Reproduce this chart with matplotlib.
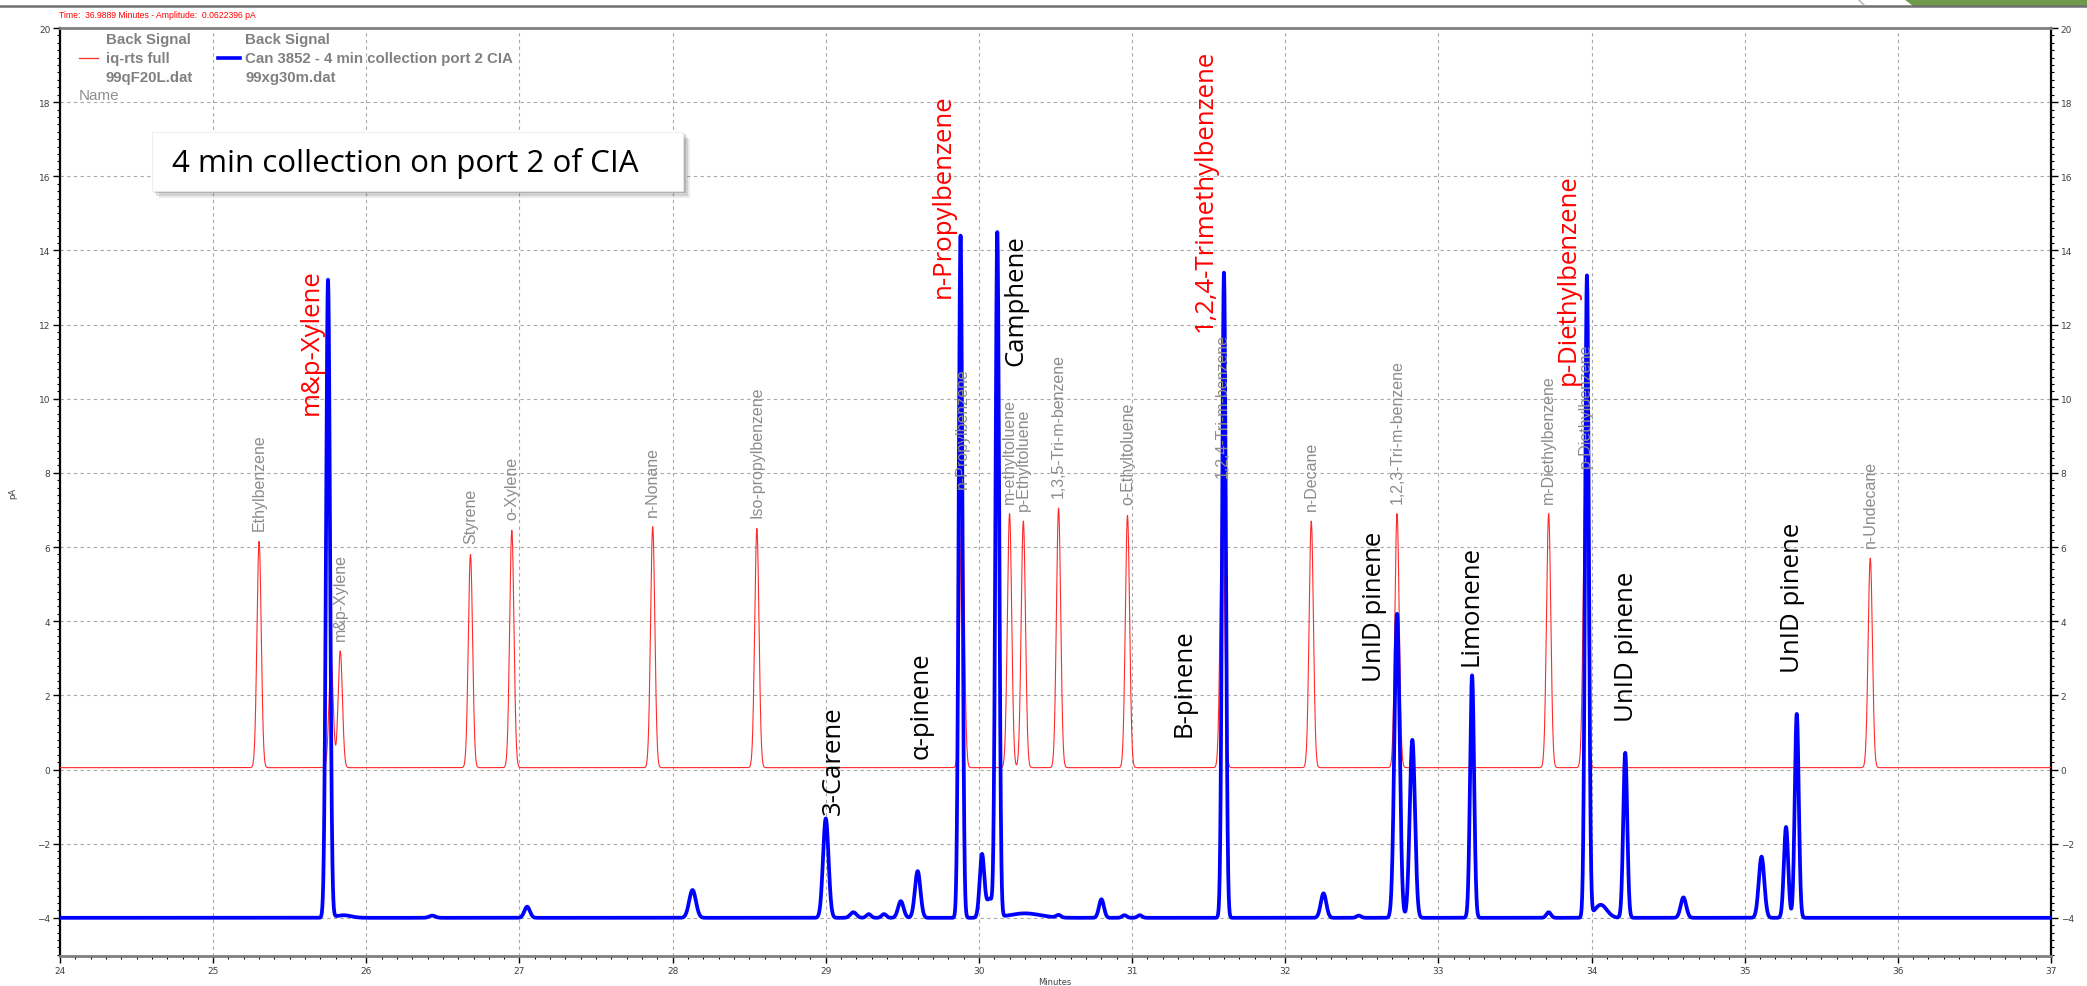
import numpy as np
import matplotlib.pyplot as plt
from matplotlib.patches import Rectangle, Polygon
from matplotlib.ticker import MultipleLocator

# red trace: reference standard (iq-rts full, 99qF20L.dat)
red_times = [25.30, 25.77, 25.83, 26.68, 26.95, 27.87, 28.55, 29.89, 30.20, 30.29,
             30.52, 30.97, 31.59, 32.17, 32.73, 33.72, 33.96, 35.82]
red_heights = [6.1, 2.9, 3.15, 5.75, 6.4, 6.5, 6.45, 7.25, 6.85, 6.65,
               7.0, 6.8, 7.55, 6.65, 6.85, 6.85, 7.8, 5.65]
red_widths = [0.014] * 18
red_names = ['Ethylbenzene', '', 'm&p-Xylene', 'Styrene', 'o-Xylene', 'n-Nonane',
             'Iso-propylbenzene', 'n-Propylbenzene', 'm-ethyltoluene', 'p-Ethyltoluene',
             '1,3,5-Tri-m-benzene', 'o-Ethyltoluene', '1,2,4-Tri-m-benzene', 'n-Decane',
             '1,2,3-Tri-m-benzene', 'm-Diethylbenzene', 'p-Diethylbenzene', 'n-Undecane']
red_base = 0.05

# blue trace: Can 3852 - 4 min collection port 2 CIA (99xg30m.dat)
blue_times = [25.75, 25.85, 26.43, 27.05, 28.13, 29.00, 29.18, 29.28, 29.38, 29.49,
              29.60, 29.88, 30.02, 30.07, 30.12, 30.30, 30.52, 30.80, 30.95, 31.05,
              31.60, 32.25, 32.48, 32.73, 32.83, 33.22, 33.72, 33.97, 34.06, 34.22,
              34.60, 35.11, 35.27, 35.34]
blue_heights = [17.2, 0.07, 0.06, 0.3, 0.75, 2.68, 0.15, 0.1, 0.1, 0.45,
                1.26, 18.4, 1.7, 0.5, 18.45, 0.12, 0.07, 0.5, 0.07, 0.07,
                17.4, 0.66, 0.06, 8.2, 4.8, 6.54, 0.15, 17.3, 0.35, 4.45,
                0.55, 1.65, 2.45, 5.5]
blue_widths = [0.013, 0.05, 0.02, 0.018, 0.022, 0.018, 0.02, 0.015, 0.015, 0.018,
               0.018, 0.012, 0.015, 0.02, 0.012, 0.1, 0.015, 0.016, 0.015, 0.015,
               0.012, 0.018, 0.015, 0.017, 0.017, 0.013, 0.015, 0.012, 0.04, 0.013,
               0.018, 0.018, 0.014, 0.013]
blue_base = -4.0

# annotations added on the slide
note_texts = ['m&p-Xylene', '3-Carene', 'α-pinene', 'n-Propylbenzene', 'Camphene',
              'B-pinene', '1,2,4-Trimethylbenzene', 'UnID pinene', 'Limonene',
              'p-Diethylbenzene', 'UnID pinene', 'UnID pinene']
note_x = [25.64, 29.05, 29.62, 29.77, 30.24, 31.34, 31.48, 32.58, 33.21, 33.85, 34.23, 35.31]
note_y = [9.6, -1.2, 0.3, 12.75, 10.9, 0.9, 11.84, 2.4, 2.81, 10.4, 1.3, 2.63]
note_colors = ['red', 'black', 'black', 'red', 'black', 'black', 'red', 'black',
               'black', 'red', 'black', 'black']


def trace(t, base, times, heights, widths):
    y = np.full_like(t, base)
    for c, h, w in zip(times, heights, widths):
        y += h * np.exp(-0.5 * ((t - c) / w) ** 2)
    return y


W, H = 2087, 987
fig = plt.figure(figsize=(W / 100, H / 100), dpi=100)


def px(x, y):
    return x / W, 1 - y / H


ax = fig.add_axes([60 / W, 1 - 957 / H, (2051 - 60) / W, (957 - 29) / H])

t = np.arange(24, 37, 0.001)
ax.plot(t, trace(t, red_base, red_times, red_heights, red_widths),
        color='#ff2a2a', lw=0.8, zorder=3)
ax.plot(t, trace(t, blue_base, blue_times, blue_heights, blue_widths),
        color='#0000ff', lw=2.7, zorder=4)

for c, h, name in zip(red_times, red_heights, red_names):
    if name:
        ax.text(c, red_base + h + 0.3, name, rotation=90, ha='center', va='bottom',
                fontsize=11.5, color='#8c8c8c', family='Liberation Sans', zorder=5)

for s, x, y, col in zip(note_texts, note_x, note_y, note_colors):
    ax.text(x, y, s, rotation=90, ha='center', va='bottom', fontsize=18.5,
            color=col, family='Open Sans', zorder=6)

# text box with shadow
bx0, bx1, by0, by1 = 24.60, 28.07, 15.6, 17.19
for k, a in zip([0.045, 0.03, 0.015], [0.12, 0.18, 0.25]):
    ax.add_patch(Rectangle((bx0 + k, by0 - 4 * k), bx1 - bx0, by1 - by0,
                           facecolor='#606060', edgecolor='none', alpha=a, zorder=7))
ax.add_patch(Rectangle((bx0, by0), bx1 - bx0, by1 - by0, facecolor='white',
                       edgecolor='#e8e8e8', lw=0.5, zorder=8))
ax.text(24.73, 16.38, '4 min collection on port 2 of CIA', ha='left', va='center',
        fontsize=22.6, family='Open Sans', color='black', zorder=9)

ax.set_xlim(24, 37)
ax.set_ylim(-5.03, 20)
ax.xaxis.set_major_locator(MultipleLocator(1))
ax.xaxis.set_minor_locator(MultipleLocator(0.1))
ax.yaxis.set_major_locator(MultipleLocator(2))
ax.yaxis.set_minor_locator(MultipleLocator(0.2))
ax.tick_params(which='both', direction='out', labelsize=6.5, labelcolor='#404040',
               right=True, labelright=True, pad=2)
ax.tick_params(which='major', length=5, width=1)
ax.tick_params(which='minor', length=2.5, width=0.8)
ax.grid(True, which='major', color='#a8a8a8', lw=0.8, ls=(0, (3, 3)))
ax.set_axisbelow(True)
for side in ['left', 'right']:
    ax.spines[side].set_color('black')
    ax.spines[side].set_linewidth(1.6)
for side in ['top', 'bottom']:
    ax.spines[side].set_color('#808080')
    ax.spines[side].set_linewidth(2)

fig.text(*px(1055, 983), 'Minutes', ha='center', va='center', fontsize=6, color='#404040')
fig.text(*px(13, 493), 'pA', ha='center', va='center', rotation=90, fontsize=6,
         color='#404040')

# header strip
fig.add_artist(plt.Line2D([0, 1], [1 - 7 / H, 1 - 7 / H], color='#707070', lw=1.8))
fig.add_artist(Polygon([px(1913, 7), px(1904, 0), px(2087, 0), px(2087, 7)],
                       closed=True, facecolor='#6f9a4b', edgecolor='none'))
ax0, ay0 = px(1858, 0)
ax1, ay1 = px(1864, 6)
fig.add_artist(plt.Line2D([ax0, ax1], [ay0, ay1], color='#b0b0b0', lw=1))
fig.text(*px(59, 16), 'Time:  36.9889 Minutes - Amplitude:  0.0622396 pA',
         ha='left', va='center', fontsize=6.2, color='red', family='Liberation Sans')

# legend block
leg_kw = dict(ha='left', va='center', fontsize=10.8, color='#808080',
              family='Liberation Sans', fontweight='bold')
fig.text(*px(106, 40), 'Back Signal', **leg_kw)
fig.text(*px(106, 59), 'iq-rts full', **leg_kw)
fig.text(*px(106, 78), '99qF20L.dat', **leg_kw)
fig.text(*px(245, 40), 'Back Signal', **leg_kw)
fig.text(*px(245, 59), 'Can 3852 - 4 min collection port 2 CIA', **leg_kw)
fig.text(*px(245, 78), '99xg30m.dat', **leg_kw)
fig.text(*px(79, 96), 'Name', ha='left', va='center', fontsize=11, color='#909090',
         family='Liberation Sans')
x0, y0 = px(79, 59)
x1, _ = px(98, 59)
fig.add_artist(plt.Line2D([x0, x1], [y0, y0], color='#ff2a2a', lw=0.9))
x0, y0 = px(218, 59)
x1, _ = px(240, 59)
fig.add_artist(plt.Line2D([x0, x1], [y0, y0], color='#0000ff', lw=2.6))

fig.savefig('out.png', dpi=100)
